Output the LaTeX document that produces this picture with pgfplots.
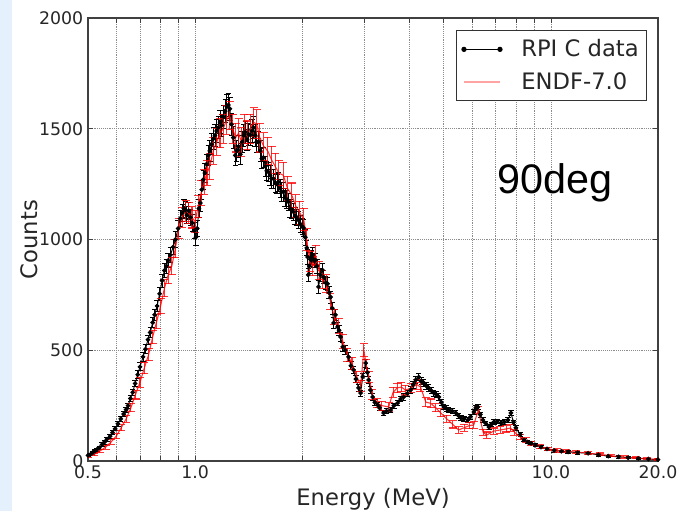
\documentclass[border=0pt]{standalone}
\usepackage{pgfplots}
\usepackage{pgfplotstable}
\pgfplotsset{compat=1.18}
\usepackage{fontspec}
\setmainfont{DejaVu Sans}
\newfontfamily\arialfont{Liberation Sans}
\definecolor{bgblue}{RGB}{228,241,252}
\definecolor{pinkleg}{RGB}{255,140,140}

\pgfplotstableread{
x y e
0.500 25 6
0.508 30 6
0.515 38 6
0.523 45 6
0.530 52 7
0.538 60 7
0.548 75 7
0.556 85 8
0.565 98 8
0.577 112 8
0.586 128 9
0.596 145 9
0.607 168 10
0.618 190 11
0.630 212 11
0.640 232 12
0.648 250 12
0.658 282 13
0.668 310 14
0.678 350 15
0.690 390 17
0.700 425 18
0.714 470 19
0.725 505 20
0.737 548 21
0.748 580 22
0.760 625 24
0.770 660 25
0.782 700 26
0.795 755 28
0.808 815 29
0.820 860 31
0.830 880 31
0.840 905 32
0.852 930 33
0.868 966 34
0.880 1000 35
0.896 1050 36
0.908 1095 38
0.920 1120 39
0.930 1140 39
0.938 1133 39
0.948 1110 38
0.960 1130 39
0.970 1100 38
0.982 1075 37
0.995 1040 36
1.005 1010 35
1.014 1050 36
1.025 1140 39
1.034 1165 40
1.044 1225 42
1.054 1270 43
1.065 1300 44
1.077 1340 45
1.089 1380 46
1.100 1400 47
1.112 1430 48
1.125 1455 49
1.137 1470 49
1.150 1490 50
1.162 1505 50
1.175 1530 51
1.188 1515 50
1.200 1555 52
1.215 1580 52
1.228 1600 53
1.240 1607 53
1.252 1590 53
1.265 1520 51
1.281 1460 49
1.297 1380 46
1.310 1400 47
1.325 1420 48
1.340 1385 47
1.355 1440 48
1.370 1470 49
1.384 1485 50
1.400 1450 49
1.415 1475 49
1.430 1472 49
1.445 1490 50
1.458 1505 50
1.475 1470 49
1.490 1440 48
1.506 1440 48
1.525 1400 47
1.540 1365 46
1.556 1370 46
1.575 1330 45
1.590 1310 44
1.607 1305 44
1.625 1290 44
1.640 1275 43
1.660 1275 43
1.680 1255 43
1.700 1250 42
1.715 1260 43
1.735 1230 42
1.750 1215 41
1.771 1215 41
1.790 1190 41
1.810 1180 40
1.830 1170 40
1.850 1140 39
1.870 1135 39
1.890 1125 39
1.910 1105 38
1.930 1100 38
1.953 1088 38
1.975 1070 37
2.000 1060 37
2.017 1052 37
2.040 1010 35
2.060 962 34
2.070 921 33
2.080 840 30
2.095 880 31
2.110 910 32
2.125 920 33
2.138 930 33
2.160 905 32
2.180 907 32
2.200 880 31
2.223 786 29
2.250 840 30
2.281 862 31
2.300 830 30
2.330 804 29
2.356 800 29
2.380 760 28
2.403 740 27
2.430 690 26
2.450 623 24
2.480 660 25
2.514 605 23
2.540 590 23
2.563 560 22
2.600 515 20
2.640 500 20
2.700 470 19
2.740 430 18
2.789 411 17
2.830 370 16
2.881 330 15
2.918 307 14
2.960 380 16
3.015 442 18
3.050 400 17
3.074 366 16
3.110 320 15
3.155 289 14
3.200 265 13
3.259 253 13
3.300 240 12
3.388 217 12
3.450 225 12
3.545 230 12
3.620 250 12
3.710 262 13
3.780 280 13
3.857 289 14
3.950 305 14
4.036 321 15
4.100 345 15
4.169 366 16
4.252 379 16
4.320 360 16
4.392 352 16
4.460 340 15
4.537 330 15
4.610 318 15
4.686 307 14
4.760 300 14
4.841 289 14
4.920 265 13
5.000 244 12
5.080 238 12
5.165 230 12
5.280 225 12
5.404 217 12
5.500 205 11
5.583 194 11
5.700 190 11
5.842 185 11
5.950 200 11
6.074 221 12
6.150 240 12
6.235 244 12
6.330 210 11
6.440 185 11
6.560 170 10
6.695 154 10
6.800 165 10
6.916 176 10
7.050 178 10
7.236 172 10
7.400 176 10
7.573 185 11
7.721 217 12
7.850 175 10
7.976 150 10
8.200 120 9
8.402 95 8
8.600 86 8
8.792 80 7
9.050 72 7
9.381 63 7
9.750 55 7
10.21 47 6
10.70 44 6
11.18 41 6
11.90 38 6
12.72 35 6
13.60 28 5
14.49 22 5
15.50 19 5
16.49 15 5
17.60 12 4
18.80 9 4
20.00 6 4
}\rpidata

\pgfplotstableread{
x y e
0.500 20 5
0.520 30 6
0.540 45 8
0.560 62 9
0.580 85 10
0.600 112 12
0.620 150 14
0.640 190 15
0.660 240 18
0.680 300 20
0.700 355 22
0.720 420 25
0.740 480 28
0.760 560 30
0.780 630 32
0.800 700 35
0.820 780 38
0.840 840 40
0.860 880 40
0.880 960 42
0.900 1050 45
0.920 1100 45
0.940 1130 48
0.960 1120 48
0.980 1100 48
1.000 1080 50
1.020 1150 50
1.040 1210 55
1.060 1260 55
1.080 1300 55
1.100 1330 60
1.125 1400 60
1.150 1440 60
1.175 1480 65
1.200 1500 65
1.225 1540 65
1.250 1560 65
1.275 1500 65
1.300 1460 65
1.325 1480 65
1.350 1440 65
1.375 1500 65
1.400 1470 65
1.430 1500 65
1.460 1530 65
1.490 1520 65
1.520 1460 65
1.560 1420 62
1.600 1400 62
1.640 1360 60
1.680 1330 60
1.720 1300 58
1.770 1290 58
1.820 1230 55
1.870 1200 55
1.920 1150 52
1.970 1120 52
2.020 1090 50
2.060 1000 48
2.100 900 45
2.140 880 44
2.180 930 45
2.230 860 42
2.280 820 42
2.340 800 40
2.400 720 38
2.460 650 35
2.530 610 34
2.600 540 32
2.680 480 30
2.760 440 28
2.850 380 26
2.920 340 25
2.980 500 30
3.030 430 28
3.080 380 26
3.150 300 22
3.250 262 20
3.350 250 20
3.500 244 20
3.600 310 22
3.700 330 22
3.800 334 22
3.900 320 22
4.050 330 22
4.200 345 22
4.300 334 22
4.450 266 20
4.600 260 20
4.750 240 18
4.900 217 18
5.100 190 16
5.300 165 16
5.500 140 15
5.700 150 15
5.900 160 15
6.070 163 15
6.250 230 16
6.450 130 14
6.600 117 14
6.900 135 14
7.200 140 14
7.500 145 14
7.700 149 14
7.900 130 13
8.200 108 12
8.500 95 11
8.800 80 10
9.300 65 9
9.800 55 8
10.40 48 8
11.00 44 7
11.80 40 7
12.70 36 6
13.70 30 6
14.80 24 5
16.00 18 5
17.30 14 4
18.60 10 4
20.00 7 3
}\endfdata

\begin{document}
\begin{tikzpicture}
\path[use as bounding box] (-66pt,-37.5pt) rectangle (441.75pt,345.75pt);
\fill[bgblue] (-66pt,-37.5pt) rectangle (-57pt,345.75pt);
\begin{axis}[
  at={(0,0)}, anchor=south west,
  scale only axis, width=427.5pt, height=332.25pt,
  xmode=log, xmin=0.5, xmax=20, ymin=0, ymax=2000,
  xtick={0.5,0.6,0.7,0.8,0.9,1,2,3,4,5,6,7,8,9,10,20},
  xticklabels={0.5,,,,,1.0,,,,,,,,,10.0,20.0},
  xminorticks=false,
  ytick={0,500,1000,1500,2000},
  yticklabels={0,500,1000,1500,2000},
  /pgf/number format/assume math mode=true,
  grid=major,
  grid style={densely dotted, black!45, line width=0.6pt},
  axis line style={black!75, line width=0.9pt},
  tick style={black!75, line width=0.6pt},
  major tick length=4pt,
  tick label style={font=\fontsize{13}{15}\selectfont, text=black!85},
  label style={font=\fontsize{17}{20}\selectfont, text=black!85},
  xlabel={Energy (MeV)},
  ylabel={Counts},
  ylabel shift=-6pt,
  legend cell align=left,
  legend style={at={(rel axis cs:0.981,0.973)}, anchor=north east,
    draw=black!80, line width=0.7pt, font=\fontsize{17}{20}\selectfont,
    inner xsep=4pt, inner ysep=5pt, row sep=6pt, text=black!85},
]
\addplot[black, line width=0.7pt, mark=*, mark size=1.4pt,
  legend image code/.code={
    \path[draw=none, fill=none] (-2pt,0pt) rectangle (41pt,1pt);
    \draw[black, line width=0.7pt] (0pt,0pt) -- (27pt,0pt);
    \fill[black] (0pt,0pt) circle (1.6pt);
    \fill[black] (27pt,0pt) circle (1.6pt);
  },
  error bars/.cd, y dir=both, y explicit,
  error bar style={black, line width=0.6pt},
  error mark=-,
  error mark options={rotate=90, black, mark size=2pt, line width=0.6pt}]
  table[x=x, y=y, y error=e] {\rpidata};
\addlegendentry{RPI C data}
\addplot[red, line width=0.8pt, opacity=0.8, no marks,
  legend image code/.code={
    \path[draw=none, fill=none] (-2pt,0pt) rectangle (41pt,1pt);
    \draw[pinkleg, line width=1.5pt] (0pt,0pt) -- (27pt,0pt);
  },
  error bars/.cd, y dir=both, y explicit,
  error bar style={red, line width=0.8pt},
  error mark=-,
  error mark options={rotate=90, red, mark size=3pt, line width=0.8pt}]
  table[x=x, y=y, y error=e] {\endfdata};
\addlegendentry{ENDF-7.0}
\node[font=\arialfont\fontsize{31}{36}\selectfont, anchor=center] at (rel axis cs:0.819,0.628) {90deg};
\end{axis}
\end{tikzpicture}
\end{document}
